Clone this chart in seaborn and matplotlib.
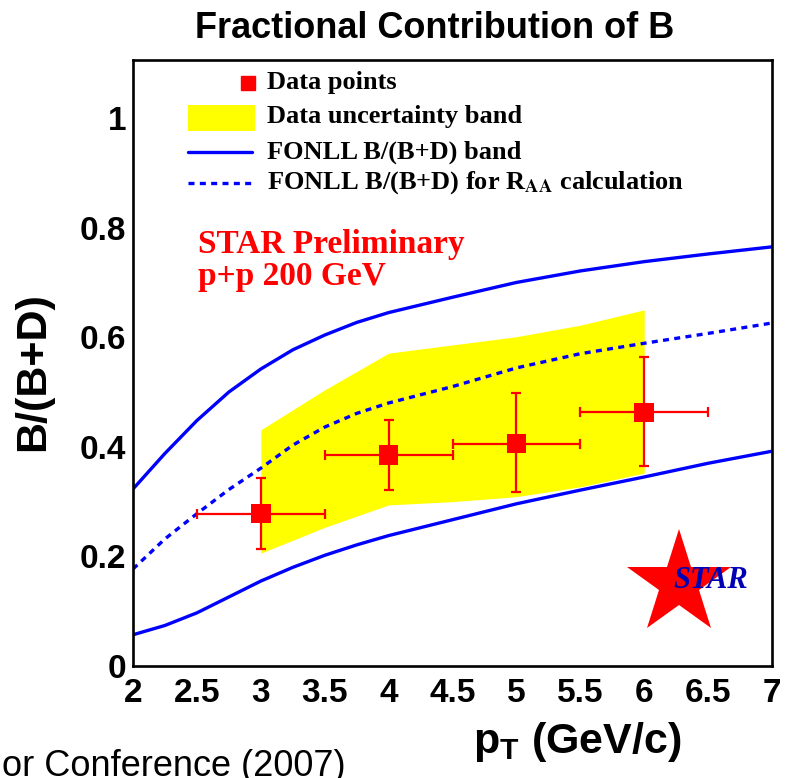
import matplotlib
matplotlib.use("Agg")
import matplotlib.pyplot as plt
from matplotlib.patches import Rectangle
from matplotlib.ticker import MultipleLocator
import seaborn as sns
import numpy as np

# ---- measured fractions ----
pt_data = [3.0, 4.0, 5.0, 6.0]
frac_data = [0.278, 0.385, 0.406, 0.463]
frac_lo = [0.213, 0.321, 0.318, 0.365]
frac_hi = [0.344, 0.449, 0.498, 0.564]
pt_halfwidth = [0.5, 0.5, 0.5, 0.5]

# ---- data uncertainty band ----
band_pt = [3.0, 3.5, 4.0, 4.5, 5.0, 5.5, 6.0]
band_upper = [0.431, 0.504, 0.571, 0.586, 0.601, 0.622, 0.650]
band_lower = [0.206, 0.253, 0.294, 0.300, 0.309, 0.327, 0.352]

# ---- FONLL curves ----
fonll_pt = [2.0, 2.25, 2.5, 2.75, 3.0, 3.25, 3.5, 3.75, 4.0, 4.5, 5.0, 5.5, 6.0, 6.5, 7.0]
fonll_upper = [0.323, 0.388, 0.448, 0.500, 0.542, 0.577, 0.604, 0.627, 0.645,
               0.673, 0.700, 0.721, 0.738, 0.752, 0.765]
fonll_lower = [0.057, 0.074, 0.097, 0.126, 0.155, 0.180, 0.202, 0.221, 0.238,
               0.267, 0.296, 0.321, 0.345, 0.370, 0.392]
fonll_raa = [0.177, 0.232, 0.278, 0.322, 0.361, 0.403, 0.436, 0.461, 0.480,
             0.510, 0.544, 0.570, 0.589, 0.607, 0.626]

x_ticks = [2, 2.5, 3, 3.5, 4, 4.5, 5, 5.5, 6, 6.5, 7]
x_tick_labels = ["2", "2.5", "3", "3.5", "4", "4.5", "5", "5.5", "6", "6.5", "7"]
y_ticks = [0, 0.2, 0.4, 0.6, 0.8, 1.0]
y_tick_labels = ["0", "0.2", "0.4", "0.6", "0.8", "1"]

sns.set_style("white")
plt.rcParams["font.family"] = ["Liberation Sans", "DejaVu Sans"]
plt.rcParams["text.color"] = "black"
plt.rcParams["xtick.color"] = "black"
plt.rcParams["ytick.color"] = "black"
plt.rcParams["xtick.labelcolor"] = "black"
plt.rcParams["ytick.labelcolor"] = "black"
plt.rcParams["mathtext.fontset"] = "custom"
plt.rcParams["mathtext.rm"] = "Liberation Sans:bold"
plt.rcParams["mathtext.bf"] = "Liberation Sans:bold"

W, H = 785, 778
fig = plt.figure(figsize=(W / 100, H / 100), dpi=100)
L, R, T, B = 133, 772, 60, 666
ax = fig.add_axes([L / W, 1 - B / H, (R - L) / W, (B - T) / H])

BLUE = "#0000FF"
RED = "#FF0000"
YELLOW = "#FFFF00"
DOTS = (0, (1.8, 1.6))

# uncertainty band
ax.fill_between(band_pt, band_lower, band_upper, color=YELLOW, lw=0, zorder=1)

# FONLL band edges and the curve used for R_AA
sns.lineplot(x=fonll_pt, y=fonll_upper, ax=ax, color=BLUE, lw=2.4, zorder=2)
sns.lineplot(x=fonll_pt, y=fonll_lower, ax=ax, color=BLUE, lw=2.4, zorder=2)
sns.lineplot(x=fonll_pt, y=fonll_raa, ax=ax, color=BLUE, lw=2.4,
             linestyle=DOTS, zorder=2)

# data points with errors
yerr = [np.array(frac_data) - np.array(frac_lo), np.array(frac_hi) - np.array(frac_data)]
ax.errorbar(pt_data, frac_data, xerr=pt_halfwidth, yerr=yerr, fmt="none",
            ecolor=RED, elinewidth=1.6, capsize=3.5, capthick=1.6, zorder=3)
sns.scatterplot(x=pt_data, y=frac_data, ax=ax, marker="s", s=14 ** 2,
                color=RED, edgecolor="none", linewidth=0, zorder=4)

ax.set_xlim(2, 7)
ax.set_ylim(0, 1.106)
ax.set_xticks(x_ticks)
ax.set_xticklabels(x_tick_labels)
ax.set_yticks(y_ticks)
ax.set_yticklabels(y_tick_labels)
ax.xaxis.set_minor_locator(MultipleLocator(0.1))
ax.yaxis.set_minor_locator(MultipleLocator(0.05))
ax.set_xlabel("")
ax.set_ylabel("")

for s in ax.spines.values():
    s.set_linewidth(1.9)
    s.set_color("black")
ax.tick_params(axis="both", which="both", direction="in", top=False, right=False,
               width=1.1, color="black", labelcolor="black")
ax.tick_params(axis="x", which="major", length=11, pad=9)
ax.tick_params(axis="x", which="minor", length=5.5)
ax.tick_params(axis="y", which="major", length=14, pad=5)
ax.tick_params(axis="y", which="minor", length=7)
for lab in ax.get_xticklabels() + ax.get_yticklabels():
    lab.set_fontsize(24)
    lab.set_fontweight("bold")


def axpt(px, py):
    return (px - L) / (R - L), (B - py) / (B - T)


# legend
serif = ["Liberation Serif", "DejaVu Serif"]
ax.plot(*axpt(248, 83), marker="s", markersize=10, color=RED,
        transform=ax.transAxes, clip_on=False, zorder=5)
x0, y0 = axpt(188, 131)
x1, y1 = axpt(255, 105)
ax.add_patch(Rectangle((x0, y0), x1 - x0, y1 - y0, transform=ax.transAxes,
                       facecolor=YELLOW, edgecolor="none", zorder=5))
for py, ls in [(152, "-"), (183, DOTS)]:
    xa, ya = axpt(188, py)
    xb, _ = axpt(252, py)
    ax.plot([xa, xb], [ya, ya], color=BLUE, lw=2.4, linestyle=ls,
            transform=ax.transAxes, zorder=5)

legend_labels = ["Data points", "Data uncertainty band", "FONLL B/(B+D) band",
                 r"FONLL B/(B+D) for R$_{\mathbf{AA}}$ calculation"]
for py, txt in zip([83, 117, 152, 183], legend_labels):
    tx, ty = axpt(267, py)
    ax.text(tx, ty, txt, transform=ax.transAxes, ha="left", va="center",
            fontsize=19, fontweight="bold", family=serif, math_fontfamily="stix",
            color="black", zorder=6)

# preliminary stamp
for py, txt in [(244, "STAR Preliminary"), (277, "p+p 200 GeV")]:
    tx, ty = axpt(198, py)
    ax.text(tx, ty, txt, transform=ax.transAxes, ha="left", va="center",
            fontsize=24, fontweight="bold", family=serif, color=RED, zorder=6)

# STAR logo
sx, sy = axpt(679, 584)
ax.plot(sx, sy, marker="*", markersize=79, color=RED, markeredgewidth=0,
        transform=ax.transAxes, zorder=6)
lx, ly = axpt(711, 580)
ax.text(lx, ly, "STAR", transform=ax.transAxes, ha="center", va="center",
        fontsize=22, fontweight="bold", fontstyle="italic", family=serif,
        color="#0000B4", zorder=7)

# titles
fig.text(435 / W, 1 - 28 / H, "Fractional Contribution of B", ha="center", va="center",
         fontsize=26, fontweight="bold")
fig.text(33 / W, 1 - 372 / H, "B/(B+D)", ha="center", va="center", rotation=90,
         fontsize=31, fontweight="bold")
fig.text(577 / W, 1 - 742 / H, r"p$_{\mathbf{T}}$ (GeV/c)", ha="center", va="center",
         fontsize=31, fontweight="bold")
fig.text(2 / W, 1 - 776 / H, "or Conference (2007)", ha="left", va="baseline",
         fontsize=26)

fig.savefig("out.png", dpi=100)
